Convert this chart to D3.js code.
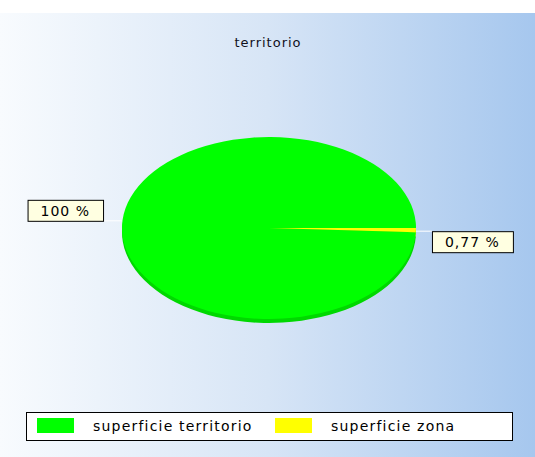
<!DOCTYPE html>
<html>
<head>
<meta charset="utf-8">
<script src="https://cdn.jsdelivr.net/npm/d3@7"></script>
<style>
html,body{margin:0;padding:0;background:#fff;}
svg{display:block;}
text{font-family:"DejaVu Sans",Verdana,sans-serif;}
</style>
</head>
<body>
<svg id="chart" width="535" height="457"></svg>
<script>
const title = "territorio";
const categories = ["superficie territorio", "superficie zona"];
const values = [100, 0.77];
const valueLabels = ["100 %", "0,77 %"];
const colors = ["#00ff00", "#ffff00"];
const sideColors = ["#00d800", "#d8d800"];

(function () {
const W = 535, H = 457;
const svg = d3.select("#chart");

// background
const defs = svg.append("defs");
const grad = defs.append("linearGradient").attr("id", "bg").attr("x1", "0").attr("x2", "1").attr("y1", "0").attr("y2", "0");
grad.append("stop").attr("offset", "0").attr("stop-color", "#f8fbfe");
grad.append("stop").attr("offset", "0.5").attr("stop-color", "#d7e5f6");
grad.append("stop").attr("offset", "1").attr("stop-color", "#a6c7ee");
svg.append("rect").attr("width", W).attr("height", H).attr("fill", "#ffffff");
svg.append("rect").attr("x", 0).attr("y", 13).attr("width", W).attr("height", H - 13).attr("fill", "url(#bg)");

// title
svg.append("text").attr("x", 268).attr("y", 47).attr("text-anchor", "middle")
  .attr("font-size", 13).attr("letter-spacing", 1).attr("fill", "#10101c").text(title);

// pie
const cx = 269, cy = 228, rx = 147, ry = 91, depth = 4;
const total = d3.sum(values);
const delta = 2 * Math.PI * values[1] / total;
const pie = d3.pie().sort(null).value(d => d)
  .startAngle(Math.PI / 2 + delta).endAngle(Math.PI / 2 + delta + 2 * Math.PI);
const arcs = pie(values);
const arc = d3.arc().innerRadius(0).outerRadius(rx);

const sideG = svg.append("g").attr("transform", `translate(${cx},${cy + depth}) scale(1,${ry / rx})`);
sideG.selectAll("path").data(arcs).join("path").attr("d", arc).attr("fill", (d, i) => sideColors[i]);

const faceG = svg.append("g").attr("transform", `translate(${cx},${cy}) scale(1,${ry / rx})`);
faceG.selectAll("path").data(arcs).join("path").attr("d", arc).attr("fill", (d, i) => colors[i]);

// labels
const labelG = svg.append("g");
arcs.forEach((a, i) => {
  const mid = (a.startAngle + a.endAngle) / 2;
  const ex = cx + rx * Math.sin(mid);
  const ey = cy - ry * Math.cos(mid);
  const t = labelG.append("text").attr("font-size", 14).attr("letter-spacing", 1).attr("fill", "#000").text(valueLabels[i]);
  const tw = t.node().getComputedTextLength();
  const bw = tw + 26, bh = 21;
  let bx, by, lx, ly;
  if (Math.sin(mid) >= 0) {
    lx = ex + 16; ly = ey + 1;
    bx = lx; by = ly;
  } else {
    lx = ex - 19; ly = ey - 5;
    bx = lx - bw; by = ly - bh;
  }
  labelG.insert("line", "text").attr("x1", ex).attr("y1", ly).attr("x2", lx).attr("y2", ly)
    .attr("stroke", "#ffffff").attr("stroke-width", 1);
  labelG.insert("rect", "text").attr("x", bx + 0.5).attr("y", by + 0.5).attr("width", bw).attr("height", bh)
    .attr("fill", "#ffffe1").attr("stroke", "#000").attr("stroke-width", 1);
  t.attr("x", bx + 13).attr("y", by + 16);
});

// legend
const leg = svg.append("g");
leg.append("rect").attr("x", 26.5).attr("y", 412.5).attr("width", 486).attr("height", 28)
  .attr("fill", "#ffffff").attr("stroke", "#000").attr("stroke-width", 1);
const legX = [37, 275];
categories.forEach((c, i) => {
  leg.append("rect").attr("x", legX[i]).attr("y", 418).attr("width", 37).attr("height", 15).attr("fill", colors[i]);
  leg.append("text").attr("x", legX[i] + 56).attr("y", 431).attr("font-size", 14).attr("letter-spacing", 1.2)
    .attr("fill", "#000").text(c);
});
})();
</script>
</body>
</html>
